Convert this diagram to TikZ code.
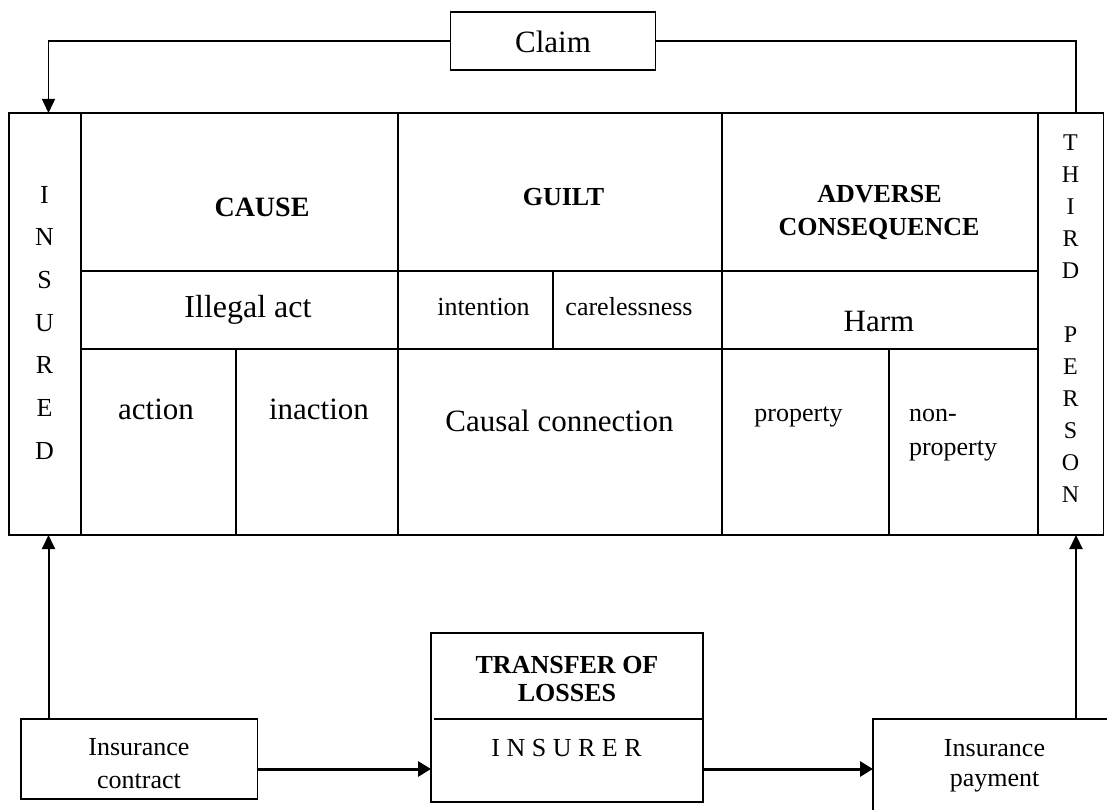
\documentclass[tikz,border=0pt]{standalone}
\usepackage{fontspec}
\setmainfont{Liberation Serif}
\usetikzlibrary{arrows.meta}
\newcommand{\fsz}[1]{\fontsize{#1}{#1}\selectfont}
\begin{document}
\begin{tikzpicture}[x=1pt,y=-1pt,
  cell/.style={draw, line width=1.5pt, rectangle, inner sep=0pt, outer sep=0pt, anchor=north west},
  box/.style={draw, line width=1.6pt, rectangle, inner sep=0pt, outer sep=0pt},
  lbl/.style={inner sep=0pt, outer sep=0pt, anchor=base},
  lblw/.style={inner sep=0pt, outer sep=0pt, anchor=base west},
  conn/.style={line width=1.5pt},
  varrow/.style={line width=2pt, -{Triangle[length=14pt,width=13pt]}},
  harrow/.style={line width=3pt, -{Triangle[length=13pt,width=15pt]}},
  tarrow/.style={line width=1.5pt, -{Triangle[length=14pt,width=13pt]}}]
\useasboundingbox (0,0) rectangle (1107,810);
\clip (0,0) rectangle (1107,810);
\fill[white] (0,0) rectangle (1107,810);

% table cells
\node[cell, minimum width=72pt, minimum height=422pt] (insured) at (9,113) {};
\node[cell, minimum width=317pt, minimum height=158pt] (cause) at (81,113) {};
\node[cell, minimum width=324pt, minimum height=158pt] (guilt) at (398,113) {};
\node[cell, minimum width=316pt, minimum height=158pt] (adverse) at (722,113) {};
\node[cell, minimum width=317pt, minimum height=78pt] (illegal) at (81,271) {};
\node[cell, minimum width=155pt, minimum height=78pt] (intention) at (398,271) {};
\node[cell, minimum width=169pt, minimum height=78pt] (careless) at (553,271) {};
\node[cell, minimum width=316pt, minimum height=78pt] (harm) at (722,271) {};
\node[cell, minimum width=155pt, minimum height=186pt] (action) at (81,349) {};
\node[cell, minimum width=162pt, minimum height=186pt] (inaction) at (236,349) {};
\node[cell, minimum width=324pt, minimum height=186pt] (causal) at (398,349) {};
\node[cell, minimum width=167pt, minimum height=186pt] (property) at (722,349) {};
\node[cell, minimum width=149pt, minimum height=186pt] (nonprop) at (889,349) {};
\node[cell, minimum width=65.5pt, minimum height=422pt] (third) at (1038,113) {};

% cell texts
\node[lbl, font=\fsz{28}\bfseries] (tcause) at (262,216.7) {CAUSE};
\node[lbl, font=\fsz{26}\bfseries] (tguilt) at (563.5,205.7) {GUILT};
\node[lbl, font=\fsz{26}\bfseries] (tadv1) at (879.5,202.7) {ADVERSE};
\node[lbl, font=\fsz{26}\bfseries] (tadv2) at (879,235.5) {CONSEQUENCE};
\node[lbl, font=\fsz{32}] (tillegal) at (248,317.3) {Illegal act};
\node[lbl, font=\fsz{26}] (tintention) at (483.5,315) {intention};
\node[lbl, font=\fsz{26}] (tcareless) at (629,315) {carelessness};
\node[lbl, font=\fsz{31}] (tharm) at (879,331.7) {Harm};
\node[lbl, font=\fsz{31}] (taction) at (156,419) {action};
\node[lbl, font=\fsz{31}] (tinaction) at (319,419) {inaction};
\node[lbl, font=\fsz{31}] (tcausal) at (559.5,431.7) {Causal connection};
\node[lbl, font=\fsz{26}] (tproperty) at (798.5,421.7) {property};
\node[lblw, font=\fsz{26}] (tnon1) at (909,421.7) {non-};
\node[lblw, font=\fsz{26}] (tnon2) at (909,455) {property};

% vertical letters
\foreach \ch [count=\i from 0] in {I,N,S,U,R,E,D}
  \node[lbl, font=\fsz{26}] (ins\i) at (44.5,{203.3+42.67*\i}) {\ch};
\foreach \ch [count=\i from 0] in {T,H,I,R,D}
  \node[lbl, font=\fsz{24}] (thd\i) at (1070.5,{150.7+31.96*\i}) {\ch};
\foreach \ch [count=\i from 6] in {P,E,R,S,O,N}
  \node[lbl, font=\fsz{24}] (thd\i) at (1070.5,{150.7+31.96*\i}) {\ch};

% claim box
\node[box, minimum width=205pt, minimum height=58pt] (claim) at (553,41) {};
\node[lbl, font=\fsz{31}] (tclaim) at (553,52.3) {Claim};

% bottom boxes
\node[box, minimum width=236.7pt, minimum height=80pt] (contract) at (139.3,759) {};
\node[lbl, font=\fsz{26}] (tcon1) at (139,755) {Insurance};
\node[lbl, font=\fsz{26}] (tcon2) at (139,788.3) {contract};

\node[box, minimum width=272pt, minimum height=169pt] (transfer) at (567,717.5) {};
\coordinate (divy) at (0,719);
\draw[line width=1.6pt] ([xshift=3pt]transfer.west |- divy) -- (transfer.east |- divy);
\node[lbl, font=\fsz{26}\bfseries] (ttr1) at (567,673.3) {TRANSFER OF};
\node[lbl, font=\fsz{26}\bfseries] (ttr2) at (567,701.7) {LOSSES};
\node[lbl, font=\fsz{26}] (tinsurer) at (566.5,756.7) {I N S U R E R};

\node[box, minimum width=260pt, minimum height=130pt, anchor=north west] (payment) at (873,719) {};
\node[lbl, font=\fsz{26}] (tpay1) at (994.5,756) {Insurance};
\node[lbl, font=\fsz{26}] (tpay2) at (994.5,786.7) {payment};

% connectors
\coordinate (inTop) at (48.5,113);
\coordinate (tpTop) at (1076,113);
\coordinate (inBot) at (48.5,535);
\coordinate (tpBot) at (1076,535);
\coordinate (hy) at (0,769);
\draw[tarrow] (claim.west) -| (inTop);
\draw[conn] (claim.east) -| (tpTop);
\draw[varrow] (contract.north -| inBot) -- (inBot);
\draw[varrow] (payment.north -| tpBot) -- (tpBot);
\draw[harrow] (contract.east |- hy) -- (transfer.west |- hy);
\draw[harrow] (transfer.east |- hy) -- (payment.west |- hy);
\end{tikzpicture}
\end{document}
